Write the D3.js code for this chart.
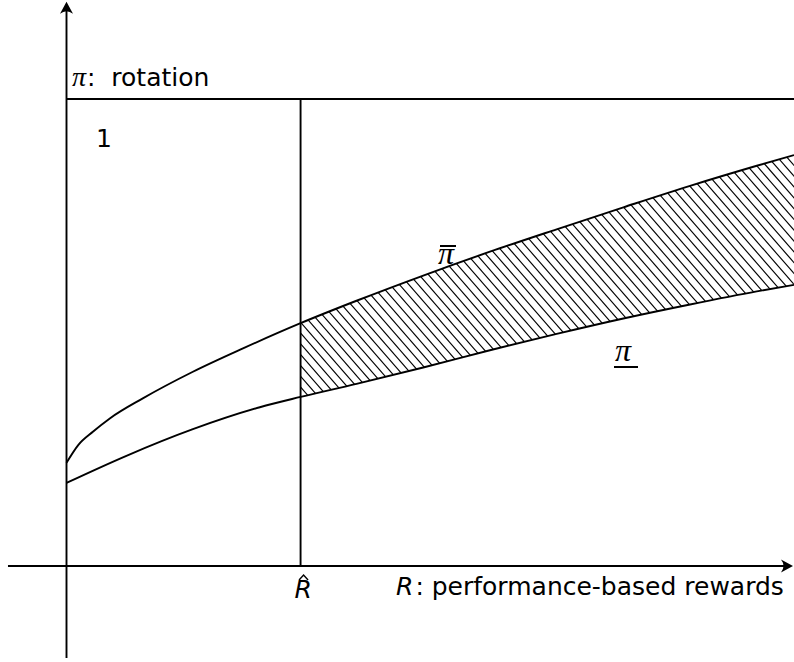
<!DOCTYPE html>
<html>
<head>
<meta charset="utf-8">
<script src="https://cdn.jsdelivr.net/npm/d3@7"></script>
<style>
  html, body { margin: 0; padding: 0; background: #fff; }
  svg { display: block; }
  .lbl { font-family: "DejaVu Sans", sans-serif; fill: #000; }
  .math { font-family: "Liberation Serif", "DejaVu Serif", serif; font-style: italic; fill: #000; }
</style>
</head>
<body>
<script>
// ---- data ----
const rUpper  = [0, 0.05, 0.114, 0.185, 0.326, 0.54, 0.754, 1.0, 1.239, 1.524, 1.809, 2.094, 2.379, 2.664, 2.949, 3.108];
const piUpper = [0.221, 0.259, 0.288, 0.316, 0.359, 0.416, 0.466, 0.520, 0.568, 0.622, 0.673, 0.721, 0.768, 0.814, 0.857, 0.880];
const rLower  = [0, 0.256, 0.54, 0.826, 1.0, 1.239, 1.524, 1.809, 2.094, 2.379, 2.664, 2.949, 3.108];
const piLower = [0.178, 0.236, 0.293, 0.340, 0.362, 0.390, 0.425, 0.462, 0.497, 0.530, 0.560, 0.588, 0.602];
const rHat = 1;            // R-hat threshold
const piMax = 1;           // rotation probability 1
const rDomain = [0, 3.108];
const piDomain = [0, 1];
const xAxisExtent = [-0.25, 3.108];
const yAxisExtent = [-0.197, 1.208];
const labels = {
  yAxis: ":  rotation", yAxisSym: "π",
  xAxis: ": performance-based rewards", xAxisSym: "R",
  one: "1", rHat: "R", upper: "π", lower: "π"
};

const W = 794, H = 662;
const x = d3.scaleLinear().domain(rDomain).range([66.5, 794]);
const y = d3.scaleLinear().domain(piDomain).range([566, 99]);

const svg = d3.select("body").append("svg").attr("width", W).attr("height", H);

const upperPts = rUpper.map((r, i) => [r, piUpper[i]]);
const lowerPts = rLower.map((r, i) => [r, piLower[i]]);
const line = d3.line().x(d => x(d[0])).y(d => y(d[1])).curve(d3.curveMonotoneX);

// hatched region between the bounds for R >= R-hat
const upR = upperPts.filter(d => d[0] >= rHat);
const loR = lowerPts.filter(d => d[0] >= rHat);
const regionD = line(upR) + "L" + line(loR.slice().reverse()).slice(1) + "Z";
const defs = svg.append("defs");
defs.append("clipPath").attr("id", "hclip")
  .append("path").attr("d", regionD);

const hatchG = svg.append("g").attr("clip-path", "url(#hclip)");
const slope = 1.15, step = 9.4;
const yTop = 80, yBot = 450;
for (let c = -600; c < 1200; c += step) {
  hatchG.append("line")
    .attr("x1", c + yTop / slope).attr("y1", yTop)
    .attr("x2", c + yBot / slope).attr("y2", yBot)
    .attr("stroke", "#000").attr("stroke-width", 1.15);
}

const stroke = (sel, w) => sel.attr("fill", "none").attr("stroke", "#000").attr("stroke-width", w);

// curves
stroke(svg.append("path").attr("d", line(upperPts)), 1.9);
stroke(svg.append("path").attr("d", line(lowerPts)), 1.9);

// horizontal line at pi = 1 and vertical line at R-hat
stroke(svg.append("line")
  .attr("x1", x(0)).attr("x2", x(rDomain[1]))
  .attr("y1", y(piMax)).attr("y2", y(piMax)), 1.9);
stroke(svg.append("line")
  .attr("x1", x(rHat)).attr("x2", x(rHat))
  .attr("y1", y(0)).attr("y2", y(piMax)), 1.9);

// axes
stroke(svg.append("line")
  .attr("x1", x(xAxisExtent[0])).attr("x2", x(xAxisExtent[1]) - 3)
  .attr("y1", y(0)).attr("y2", y(0)), 1.9);
stroke(svg.append("line")
  .attr("x1", x(0)).attr("x2", x(0))
  .attr("y1", y(yAxisExtent[0])).attr("y2", y(yAxisExtent[1]) + 3), 1.9);

const arrow = "M0,0 L-12,-6.5 Q-7,0 -12,6.5 Z";
svg.append("path").attr("d", arrow).attr("fill", "#000")
  .attr("transform", `translate(${x(xAxisExtent[1]) - 1},${y(0)})`);
svg.append("path").attr("d", arrow).attr("fill", "#000")
  .attr("transform", `translate(${x(0)},${y(yAxisExtent[1])}) rotate(-90)`);

// labels
const yl = svg.append("text").attr("x", 72).attr("y", 86).attr("font-size", 25)
  .style("white-space", "pre");
yl.append("tspan").attr("class", "math").attr("font-size", 28).text(labels.yAxisSym);
yl.append("tspan").attr("class", "lbl").attr("dx", 1).text(labels.yAxis);

svg.append("text").attr("class", "lbl").attr("x", 96).attr("y", 147)
  .attr("font-size", 25).text(labels.one);

const xl = svg.append("text").attr("x", 396).attr("y", 595).attr("font-size", 25)
  .style("white-space", "pre");
xl.append("tspan").attr("class", "lbl").attr("font-style", "oblique").text(labels.xAxisSym);
xl.append("tspan").attr("class", "lbl").attr("dx", 2).text(labels.xAxis);

// R-hat
svg.append("text").attr("class", "lbl").attr("font-style", "oblique")
  .attr("x", x(rHat) - 6).attr("y", 598).attr("font-size", 25).text(labels.rHat);
stroke(svg.append("path").attr("d", `M${x(rHat) - 1.5},580 L${x(rHat) + 3},575 L${x(rHat) + 7.5},580`), 1.4);

// pi-bar label
svg.append("text").attr("class", "math").attr("x", 438).attr("y", 264)
  .attr("font-size", 32).text(labels.upper);
stroke(svg.append("line").attr("x1", 440).attr("x2", 456).attr("y1", 246).attr("y2", 246), 2);

// pi-underline label
svg.append("text").attr("class", "math").attr("x", 615).attr("y", 361)
  .attr("font-size", 32).text(labels.lower);
stroke(svg.append("line").attr("x1", 614).attr("x2", 638).attr("y1", 367).attr("y2", 367), 2);
</script>
</body>
</html>
